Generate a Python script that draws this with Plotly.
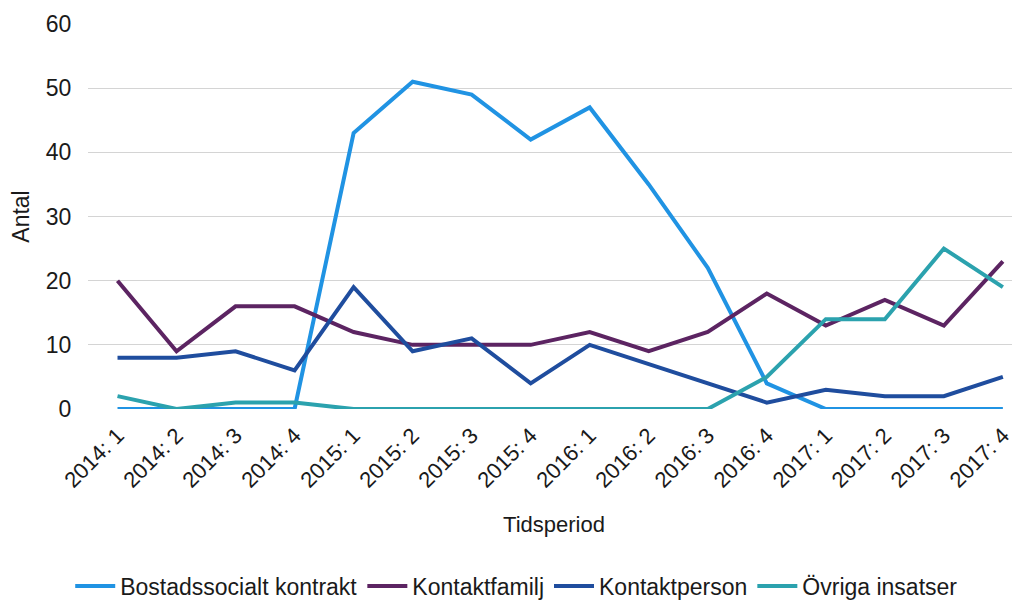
import plotly.graph_objects as go

categories = ["2014: 1", "2014: 2", "2014: 3", "2014: 4",
              "2015: 1", "2015: 2", "2015: 3", "2015: 4",
              "2016: 1", "2016: 2", "2016: 3", "2016: 4",
              "2017: 1", "2017: 2", "2017: 3", "2017: 4"]

bostadssocialt = [0, 0, 0, 0, 43, 51, 49, 42, 47, 35, 22, 4, 0, 0, 0, 0]
kontaktfamilj = [20, 9, 16, 16, 12, 10, 10, 10, 12, 9, 12, 18, 13, 17, 13, 23]
kontaktperson = [8, 8, 9, 6, 19, 9, 11, 4, 10, 7, 4, 1, 3, 2, 2, 5]
ovriga = [2, 0, 1, 1, 0, 0, 0, 0, 0, 0, 0, 5, 14, 14, 25, 19]

series = [
    ("Bostadssocialt kontrakt", bostadssocialt, "#2093e3"),
    ("Kontaktfamilj", kontaktfamilj, "#5c2462"),
    ("Kontaktperson", kontaktperson, "#1f4d9e"),
    ("Övriga insatser", ovriga, "#2ba2ae"),
]

fig = go.Figure()
for name, vals, col in series:
    fig.add_trace(go.Scatter(x=list(range(len(categories))), y=vals, mode="lines", name=name,
                             line=dict(color=col, width=4)))

font = "Liberation Sans, Arial, sans-serif"
fig.update_layout(
    width=1020, height=607,
    paper_bgcolor="white", plot_bgcolor="white",
    margin=dict(l=80, r=8, t=16, b=185),
    font=dict(family=font, size=22, color="#1a1a1a"),
    showlegend=True,
    legend=dict(orientation="h", x=0.46, xanchor="center", y=-0.46, yanchor="middle",
                font=dict(size=23), itemwidth=40, traceorder="normal",
                tracegroupgap=0),
    xaxis=dict(
        tickmode="array", tickvals=list(range(len(categories))), ticktext=categories,
        range=[-0.5, 15.29], tickangle=-45, showgrid=False, zeroline=False,
        showline=False, ticks="outside", ticklen=4, tickcolor="white",
        tickfont=dict(size=22), automargin=False,
        title=dict(text="Tidsperiod", font=dict(size=22), standoff=24),
    ),
    yaxis=dict(
        range=[0, 60], dtick=10, showgrid=True, gridcolor="#d4d4d4", gridwidth=1,
        zeroline=False, showline=False, ticks="outside", ticklen=11, tickcolor="white",
        tickfont=dict(size=23), automargin=False,
        title=dict(text="Antal", font=dict(size=23), standoff=11),
    ),
)

fig.write_html("out.html")
